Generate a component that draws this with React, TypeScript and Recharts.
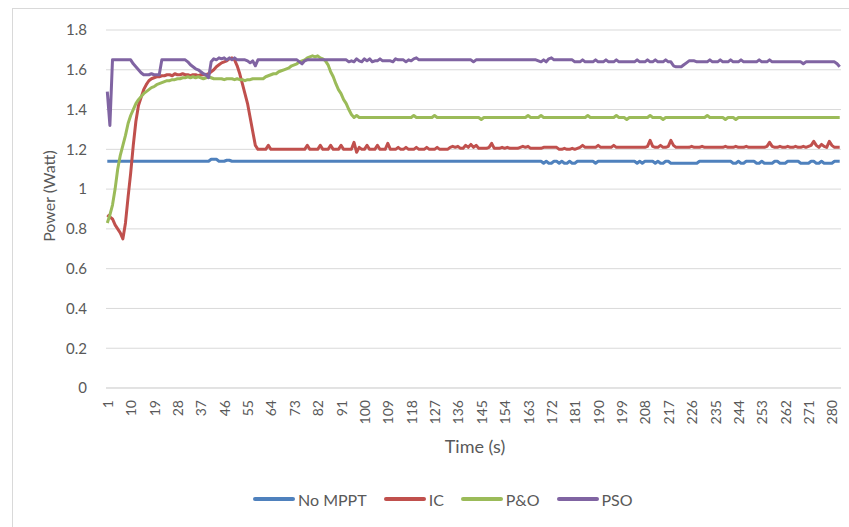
import { LineChart, Line, XAxis, YAxis, CartesianGrid } from "recharts";

// Power (W) per second
const noMppt = [
  1.14, 1.14, 1.14, 1.14, 1.14, 1.14, 1.14, 1.14, 1.14, 1.14,
  1.14, 1.14, 1.14, 1.14, 1.14, 1.14, 1.14, 1.14, 1.14, 1.14,
  1.14, 1.14, 1.14, 1.14, 1.14, 1.14, 1.14, 1.14, 1.14, 1.14,
  1.14, 1.14, 1.14, 1.14, 1.14, 1.14, 1.14, 1.14, 1.14, 1.14,
  1.15, 1.15, 1.15, 1.14, 1.14, 1.14, 1.145, 1.145, 1.14, 1.14,
  1.14, 1.14, 1.14, 1.14, 1.14, 1.14, 1.14, 1.14, 1.14, 1.14,
  1.14, 1.14, 1.14, 1.14, 1.14, 1.14, 1.14, 1.14, 1.14, 1.14,
  1.14, 1.14, 1.14, 1.14, 1.14, 1.14, 1.14, 1.14, 1.14, 1.14,
  1.14, 1.14, 1.14, 1.14, 1.14, 1.14, 1.14, 1.14, 1.14, 1.14,
  1.14, 1.14, 1.14, 1.14, 1.14, 1.14, 1.14, 1.14, 1.14, 1.14,
  1.14, 1.14, 1.14, 1.14, 1.14, 1.14, 1.14, 1.14, 1.14, 1.14,
  1.14, 1.14, 1.14, 1.14, 1.14, 1.14, 1.14, 1.14, 1.14, 1.14,
  1.14, 1.14, 1.14, 1.14, 1.14, 1.14, 1.14, 1.14, 1.14, 1.14,
  1.14, 1.14, 1.14, 1.14, 1.14, 1.14, 1.14, 1.14, 1.14, 1.14,
  1.14, 1.14, 1.14, 1.14, 1.14, 1.14, 1.14, 1.14, 1.14, 1.14,
  1.14, 1.14, 1.14, 1.14, 1.14, 1.14, 1.14, 1.14, 1.14, 1.14,
  1.14, 1.14, 1.14, 1.14, 1.14, 1.14, 1.14, 1.14, 1.13, 1.14,
  1.13, 1.13, 1.14, 1.14, 1.13, 1.14, 1.13, 1.13, 1.14, 1.13,
  1.13, 1.14, 1.14, 1.14, 1.14, 1.14, 1.14, 1.14, 1.13, 1.14,
  1.14, 1.14, 1.14, 1.14, 1.14, 1.14, 1.14, 1.14, 1.14, 1.14,
  1.14, 1.14, 1.14, 1.14, 1.13, 1.14, 1.13, 1.14, 1.14, 1.14,
  1.14, 1.13, 1.14, 1.13, 1.13, 1.14, 1.14, 1.13, 1.13, 1.13,
  1.13, 1.13, 1.13, 1.13, 1.13, 1.13, 1.13, 1.13, 1.14, 1.14,
  1.14, 1.14, 1.14, 1.14, 1.14, 1.14, 1.14, 1.14, 1.14, 1.14,
  1.14, 1.13, 1.13, 1.14, 1.13, 1.13, 1.14, 1.14, 1.14, 1.14,
  1.13, 1.13, 1.14, 1.13, 1.13, 1.13, 1.13, 1.14, 1.14, 1.13,
  1.13, 1.13, 1.14, 1.14, 1.14, 1.14, 1.14, 1.13, 1.13, 1.13,
  1.13, 1.14, 1.14, 1.13, 1.13, 1.14, 1.13, 1.13, 1.13, 1.13,
  1.14, 1.14, 1.14,
];

const ic = [
  0.87, 0.86, 0.85, 0.82, 0.8, 0.78, 0.75, 0.83, 0.96, 1.08,
  1.22, 1.34, 1.42, 1.46, 1.5, 1.525, 1.545, 1.555, 1.56, 1.565,
  1.565, 1.57, 1.57, 1.575, 1.575, 1.57, 1.58, 1.575, 1.575, 1.58,
  1.575, 1.575, 1.57, 1.575, 1.575, 1.57, 1.575, 1.575, 1.575, 1.58,
  1.59, 1.6, 1.615, 1.625, 1.635, 1.64, 1.645, 1.655, 1.66, 1.65,
  1.62, 1.58, 1.53, 1.48, 1.43, 1.36, 1.29, 1.22, 1.2, 1.2,
  1.2, 1.2, 1.22, 1.2, 1.2, 1.2, 1.2, 1.2, 1.2, 1.2,
  1.2, 1.2, 1.2, 1.2, 1.2, 1.2, 1.2, 1.22, 1.2, 1.2,
  1.2, 1.2, 1.22, 1.2, 1.2, 1.2, 1.22, 1.2, 1.2, 1.2,
  1.22, 1.2, 1.2, 1.2, 1.2, 1.235, 1.185, 1.21, 1.2, 1.2,
  1.22, 1.2, 1.2, 1.2, 1.22, 1.2, 1.2, 1.2, 1.23, 1.2,
  1.2, 1.2, 1.21, 1.2, 1.2, 1.21, 1.2, 1.2, 1.2, 1.21,
  1.2, 1.2, 1.2, 1.21, 1.2, 1.2, 1.2, 1.21, 1.2, 1.2,
  1.2, 1.2, 1.21, 1.215, 1.21, 1.215, 1.205, 1.205, 1.22, 1.21,
  1.225, 1.21, 1.22, 1.205, 1.205, 1.205, 1.205, 1.21, 1.23, 1.205,
  1.205, 1.205, 1.21, 1.205, 1.21, 1.205, 1.205, 1.205, 1.205, 1.21,
  1.215, 1.21, 1.215, 1.205, 1.205, 1.205, 1.205, 1.205, 1.21, 1.21,
  1.21, 1.21, 1.21, 1.21, 1.2, 1.2, 1.205, 1.2, 1.2, 1.205,
  1.2, 1.205, 1.21, 1.22, 1.21, 1.21, 1.21, 1.21, 1.21, 1.22,
  1.21, 1.21, 1.21, 1.21, 1.21, 1.22, 1.21, 1.21, 1.21, 1.21,
  1.21, 1.21, 1.21, 1.21, 1.21, 1.21, 1.21, 1.21, 1.215, 1.245,
  1.215, 1.21, 1.21, 1.22, 1.21, 1.21, 1.215, 1.245, 1.22, 1.21,
  1.21, 1.21, 1.21, 1.21, 1.21, 1.215, 1.21, 1.21, 1.21, 1.215,
  1.21, 1.21, 1.21, 1.21, 1.21, 1.21, 1.21, 1.21, 1.215, 1.21,
  1.21, 1.21, 1.215, 1.21, 1.21, 1.21, 1.215, 1.21, 1.21, 1.21,
  1.21, 1.21, 1.21, 1.21, 1.215, 1.235, 1.215, 1.21, 1.21, 1.215,
  1.21, 1.21, 1.215, 1.21, 1.21, 1.215, 1.21, 1.21, 1.215, 1.21,
  1.215, 1.22, 1.24, 1.22, 1.21, 1.225, 1.215, 1.21, 1.24, 1.22,
  1.21, 1.21, 1.21,
];

const pAndO = [
  0.83, 0.87, 0.92, 1.0, 1.1, 1.17, 1.22, 1.27, 1.33, 1.37,
  1.4, 1.43, 1.45, 1.465, 1.48, 1.49, 1.5, 1.51, 1.515, 1.525,
  1.53, 1.535, 1.54, 1.545, 1.545, 1.55, 1.55, 1.555, 1.555, 1.56,
  1.56, 1.565, 1.56, 1.565, 1.56, 1.565, 1.56, 1.555, 1.56, 1.565,
  1.56, 1.555, 1.555, 1.555, 1.555, 1.55, 1.555, 1.555, 1.555, 1.55,
  1.555, 1.55, 1.55, 1.545, 1.55, 1.55, 1.555, 1.555, 1.555, 1.555,
  1.555, 1.565, 1.57, 1.575, 1.58, 1.58, 1.59, 1.595, 1.6, 1.605,
  1.61, 1.62, 1.625, 1.63, 1.64, 1.645, 1.65, 1.66, 1.665, 1.67,
  1.665, 1.67, 1.66, 1.655, 1.645, 1.625, 1.59, 1.565, 1.53, 1.5,
  1.48, 1.45, 1.43, 1.4, 1.375, 1.36, 1.37, 1.36, 1.36, 1.36,
  1.36, 1.36, 1.36, 1.36, 1.36, 1.36, 1.36, 1.36, 1.36, 1.36,
  1.36, 1.36, 1.36, 1.36, 1.36, 1.36, 1.36, 1.36, 1.37, 1.36,
  1.36, 1.36, 1.36, 1.36, 1.36, 1.36, 1.37, 1.36, 1.36, 1.36,
  1.36, 1.36, 1.36, 1.36, 1.36, 1.36, 1.36, 1.36, 1.36, 1.36,
  1.36, 1.36, 1.36, 1.36, 1.35, 1.36, 1.36, 1.36, 1.36, 1.36,
  1.36, 1.36, 1.36, 1.36, 1.36, 1.36, 1.36, 1.36, 1.36, 1.36,
  1.36, 1.36, 1.37, 1.36, 1.36, 1.36, 1.36, 1.37, 1.36, 1.36,
  1.36, 1.36, 1.36, 1.36, 1.36, 1.36, 1.36, 1.36, 1.36, 1.36,
  1.36, 1.36, 1.36, 1.36, 1.36, 1.37, 1.36, 1.36, 1.36, 1.36,
  1.36, 1.36, 1.36, 1.36, 1.36, 1.36, 1.37, 1.36, 1.36, 1.36,
  1.35, 1.36, 1.36, 1.36, 1.36, 1.36, 1.36, 1.36, 1.36, 1.37,
  1.36, 1.36, 1.36, 1.36, 1.35, 1.36, 1.36, 1.36, 1.36, 1.36,
  1.36, 1.36, 1.36, 1.36, 1.36, 1.36, 1.36, 1.36, 1.36, 1.36,
  1.36, 1.37, 1.36, 1.36, 1.36, 1.36, 1.36, 1.36, 1.35, 1.36,
  1.36, 1.36, 1.35, 1.36, 1.36, 1.36, 1.36, 1.36, 1.36, 1.36,
  1.36, 1.36, 1.36, 1.36, 1.36, 1.36, 1.36, 1.36, 1.36, 1.36,
  1.36, 1.36, 1.36, 1.36, 1.36, 1.36, 1.36, 1.36, 1.36, 1.36,
  1.36, 1.36, 1.36, 1.36, 1.36, 1.36, 1.36, 1.36, 1.36, 1.36,
  1.36, 1.36, 1.36,
];

const pso = [
  1.49, 1.32, 1.65, 1.65, 1.65, 1.65, 1.65, 1.65, 1.65, 1.65,
  1.63, 1.615, 1.6, 1.585, 1.575, 1.575, 1.575, 1.58, 1.575, 1.575,
  1.575, 1.65, 1.65, 1.65, 1.65, 1.65, 1.65, 1.65, 1.65, 1.65,
  1.65, 1.64, 1.625, 1.615, 1.605, 1.6, 1.59, 1.58, 1.575, 1.56,
  1.64, 1.655, 1.65, 1.66, 1.655, 1.66, 1.65, 1.66, 1.65, 1.66,
  1.65, 1.65, 1.65, 1.65, 1.645, 1.635, 1.645, 1.62, 1.65, 1.65,
  1.65, 1.65, 1.65, 1.65, 1.65, 1.65, 1.65, 1.65, 1.65, 1.65,
  1.65, 1.65, 1.65, 1.65, 1.64, 1.63, 1.645, 1.65, 1.65, 1.65,
  1.65, 1.65, 1.65, 1.65, 1.65, 1.65, 1.65, 1.65, 1.65, 1.65,
  1.65, 1.65, 1.65, 1.64, 1.645, 1.64, 1.655, 1.645, 1.64, 1.655,
  1.645, 1.655, 1.64, 1.645, 1.645, 1.655, 1.645, 1.645, 1.645, 1.645,
  1.64, 1.655, 1.65, 1.65, 1.65, 1.64, 1.65, 1.645, 1.655, 1.66,
  1.65, 1.65, 1.65, 1.65, 1.65, 1.65, 1.65, 1.65, 1.65, 1.65,
  1.65, 1.65, 1.65, 1.65, 1.65, 1.65, 1.65, 1.65, 1.65, 1.65,
  1.65, 1.64, 1.65, 1.65, 1.65, 1.65, 1.65, 1.65, 1.65, 1.65,
  1.65, 1.65, 1.65, 1.65, 1.65, 1.65, 1.65, 1.65, 1.65, 1.65,
  1.65, 1.65, 1.65, 1.65, 1.65, 1.65, 1.645, 1.64, 1.65, 1.64,
  1.655, 1.66, 1.65, 1.65, 1.65, 1.65, 1.65, 1.65, 1.65, 1.65,
  1.64, 1.64, 1.64, 1.65, 1.64, 1.64, 1.64, 1.64, 1.65, 1.64,
  1.64, 1.64, 1.65, 1.64, 1.64, 1.64, 1.65, 1.64, 1.64, 1.64,
  1.64, 1.64, 1.64, 1.64, 1.65, 1.64, 1.64, 1.64, 1.65, 1.64,
  1.64, 1.65, 1.64, 1.64, 1.64, 1.65, 1.64, 1.64, 1.62, 1.615,
  1.615, 1.615, 1.625, 1.635, 1.645, 1.645, 1.645, 1.64, 1.64, 1.64,
  1.64, 1.64, 1.65, 1.64, 1.64, 1.64, 1.65, 1.64, 1.64, 1.64,
  1.65, 1.64, 1.64, 1.64, 1.65, 1.64, 1.64, 1.64, 1.64, 1.64,
  1.64, 1.65, 1.64, 1.64, 1.64, 1.65, 1.64, 1.64, 1.64, 1.64,
  1.64, 1.64, 1.64, 1.64, 1.64, 1.64, 1.64, 1.64, 1.63, 1.64,
  1.64, 1.64, 1.64, 1.64, 1.64, 1.64, 1.64, 1.64, 1.64, 1.64,
  1.64, 1.63, 1.615,
];

const yTicks = [0, 0.2, 0.4, 0.6, 0.8, 1, 1.2, 1.4, 1.6, 1.8];

const series = [
  { key: "noMppt", name: "No MPPT", color: "#4F81BD", values: noMppt },
  { key: "ic", name: "IC", color: "#C0504D", values: ic },
  { key: "po", name: "P&O", color: "#9BBB59", values: pAndO },
  { key: "pso", name: "PSO", color: "#8064A2", values: pso },
];

const time = noMppt.map((_, i) => i + 1);
const data = time.map((t, i) => {
  const row: Record<string, number> = { t };
  series.forEach((s) => (row[s.key] = s.values[i]));
  return row;
});

const FONT = "Lato, 'Open Sans', sans-serif";
const TEXT = "#595959";
const GRID = "#D9D9D9";

function TimeTick({ x, y, payload }: any) {
  const ty = y + 4;
  return (
    <text
      x={x}
      y={ty}
      transform={`rotate(-90 ${x} ${ty})`}
      textAnchor="end"
      dominantBaseline="central"
      fontSize={14}
      fontFamily={FONT}
      fill={TEXT}
    >
      {payload.value}
    </text>
  );
}

function PowerTitle() {
  return (
    <text
      x={55}
      y={196}
      transform="rotate(-90 55 196)"
      textAnchor="middle"
      fontSize={16}
      fontFamily={FONT}
      fill={TEXT}
    >
      Power (Watt)
    </text>
  );
}

function TimeTitle() {
  return (
    <text x={475} y={453} textAnchor="middle" fontSize={18} fontFamily={FONT} fill={TEXT}>
      Time (s)
    </text>
  );
}

export default function App() {
  return (
    <div
      style={{
        position: "absolute",
        left: 0,
        top: 0,
        width: 849,
        height: 527,
        overflow: "hidden",
        background: "#fff",
      }}
    >
      <div
        style={{
          position: "absolute",
          left: 12,
          top: 8,
          width: 1000,
          height: 1000,
          borderTop: `1px solid ${GRID}`,
          borderLeft: `1px solid ${GRID}`,
        }}
      />
      <div style={{ position: "absolute", left: 0, top: 0 }}>
        <LineChart width={849} height={527} data={data} margin={{ top: 30, right: 8, bottom: 0, left: 0 }}>
          <CartesianGrid vertical={false} stroke={GRID} />
          <XAxis
            dataKey="t"
            interval={8}
            height={139}
            tickLine={false}
            axisLine={{ stroke: GRID }}
            padding={{ left: 1.3, right: 1.3 }}
            tick={<TimeTick />}
            label={<TimeTitle />}
          />
          <YAxis
            domain={[0, 1.8]}
            ticks={yTicks}
            width={106}
            axisLine={false}
            tickLine={false}
            tickMargin={13}
            tick={{ fontSize: 15, fill: TEXT, fontFamily: FONT }}
            label={<PowerTitle />}
          />
          {series.map((s) => (
            <Line
              key={s.key}
              type="linear"
              dataKey={s.key}
              name={s.name}
              stroke={s.color}
              strokeWidth={3}
              strokeLinejoin="round"
              dot={false}
              activeDot={false}
              isAnimationActive={false}
            />
          ))}
        </LineChart>
      </div>
      <div
        style={{
          position: "absolute",
          left: 253,
          top: 489,
          height: 20,
          display: "flex",
          alignItems: "center",
          fontFamily: FONT,
          fontSize: 16,
          color: TEXT,
        }}
      >
        {series.map((s) => (
          <div key={s.key} style={{ display: "flex", alignItems: "center", marginRight: 17 }}>
            <svg width={42} height={6} style={{ marginRight: 3 }}>
              <line x1={2} y1={3} x2={40} y2={3} stroke={s.color} strokeWidth={4} strokeLinecap="round" />
            </svg>
            <span>{s.name}</span>
          </div>
        ))}
      </div>
    </div>
  );
}
